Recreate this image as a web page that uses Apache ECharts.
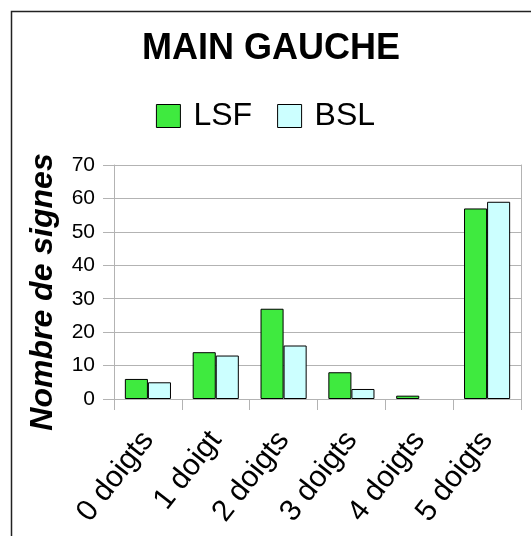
<!DOCTYPE html>
<html>
<head>
<meta charset="utf-8">
<script src="https://cdn.jsdelivr.net/npm/echarts@6/dist/echarts.min.js"></script>
<style>
html,body{margin:0;padding:0;background:#fff;}
#c{width:531px;height:536px;}
</style>
</head>
<body>
<div id="c"></div>
<script>
var categories = ['0 doigts', '1 doigt', '2 doigts', '3 doigts', '4 doigts', '5 doigts'];
var lsfValues = [6, 14, 27, 8, 1, 57];
var bslValues = [5, 13, 16, 3, 0, 59];
var yTicks = [0, 10, 20, 30, 40, 50, 60, 70];

var chart = echarts.init(document.getElementById('c'), null, {renderer: 'canvas'});
var font = '"Liberation Sans", Arial, sans-serif';
var gray = '#b3b3b3';
function toBarData(arr) {
  return arr.map(function (v) {
    return v === 0 ? {value: v, itemStyle: {borderWidth: 0}} : v;
  });
}
chart.setOption({
  animation: false,
  backgroundColor: '#fff',
  textStyle: {fontFamily: font},
  graphic: [{
    type: 'rect',
    shape: {x: 11.5, y: 11.5, width: 700, height: 700},
    style: {fill: 'none', stroke: '#222', lineWidth: 1.5},
    silent: true
  }],
  title: {
    text: 'MAIN GAUCHE',
    left: 137,
    top: 26,
    textStyle: {fontFamily: font, fontSize: 36, fontWeight: 'bold', color: '#000'}
  },
  legend: {
    top: 95,
    left: 'center',
    itemWidth: 24,
    itemHeight: 23,
    itemGap: 25,
    icon: 'rect',
    textStyle: {fontFamily: font, fontSize: 32, color: '#000', padding: [0, 0, 0, 8]},
    data: [
      {name: 'LSF', itemStyle: {color: '#3fea3f', borderColor: '#000', borderWidth: 1}},
      {name: 'BSL', itemStyle: {color: '#ccffff', borderColor: '#000', borderWidth: 1}}
    ]
  },
  grid: {left: 114, right: 10, top: 165, bottom: 137, containLabel: false},
  xAxis: {
    type: 'category',
    data: categories,
    axisLine: {show: true, lineStyle: {color: gray, width: 1}},
    axisTick: {show: true, length: 11, lineStyle: {color: gray}},
    axisLabel: {rotate: 52, fontSize: 30, color: '#000', fontFamily: font, margin: 36, interval: 0}
  },
  yAxis: [{
    type: 'value',
    min: 0, max: 70, interval: 10,
    name: 'Nombre de signes',
    nameLocation: 'middle',
    nameGap: 55,
    nameTextStyle: {fontFamily: font, fontSize: 32, fontWeight: 'bold', fontStyle: 'italic', color: '#000', padding: [0, 20, 0, 0]},
    axisLine: {show: true, lineStyle: {color: gray, width: 1}},
    axisTick: {show: true, length: 11, lineStyle: {color: gray}},
    axisLabel: {
      fontSize: 21, color: '#000', fontFamily: font, margin: 19,
      formatter: function (v) { return yTicks.indexOf(v) >= 0 ? String(v) : ''; }
    },
    splitLine: {show: true, lineStyle: {color: gray, width: 1}}
  }, {
    type: 'value',
    position: 'right',
    min: 0, max: 70, interval: 10,
    axisLine: {show: true, lineStyle: {color: gray, width: 1}},
    axisTick: {show: false},
    axisLabel: {show: false},
    splitLine: {show: false}
  }],
  series: [{
    name: 'LSF',
    type: 'bar',
    data: toBarData(lsfValues),
    barGap: '0%',
    barCategoryGap: '32%',
    itemStyle: {color: '#3fea3f', borderColor: '#000', borderWidth: 1}
  }, {
    name: 'BSL',
    type: 'bar',
    data: toBarData(bslValues),
    barGap: '0%',
    barCategoryGap: '32%',
    itemStyle: {color: '#ccffff', borderColor: '#000', borderWidth: 1}
  }]
});
</script>
</body>
</html>
